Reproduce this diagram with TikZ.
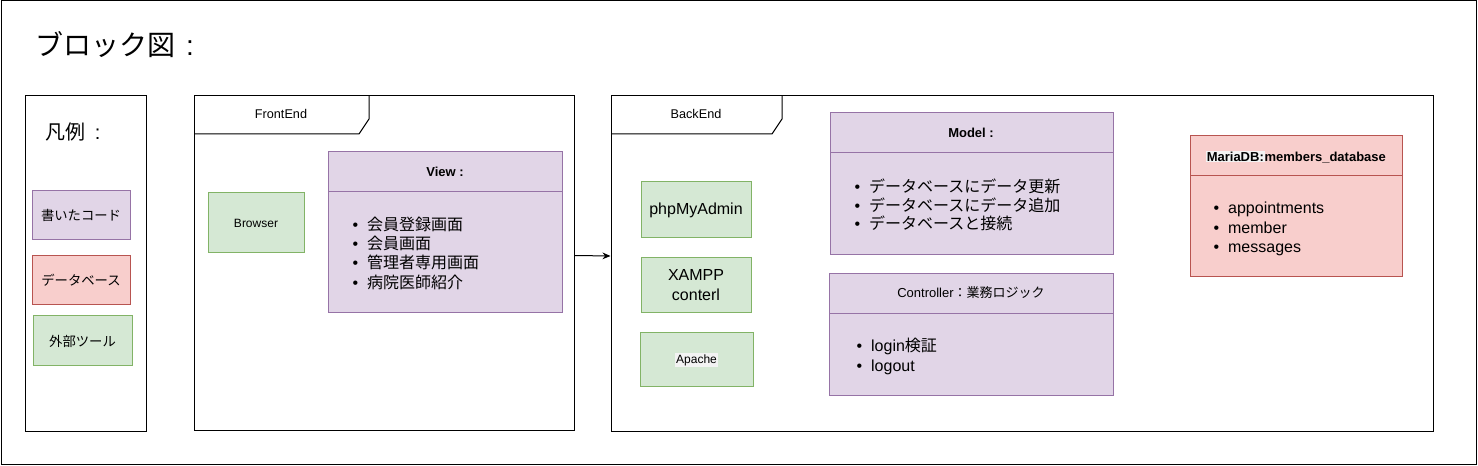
\documentclass[tikz,border=0pt]{standalone}
\usepackage{fontspec}
\setmainfont{Liberation Sans}
\newfontfamily\jp{Noto Sans CJK JP}
\usetikzlibrary{arrows.meta,fit}
\definecolor{pfill}{HTML}{E1D5E7}
\definecolor{pstroke}{HTML}{9673A6}
\definecolor{rfill}{HTML}{F8CECC}
\definecolor{rstroke}{HTML}{B85450}
\definecolor{gfill}{HTML}{D5E8D4}
\definecolor{gstroke}{HTML}{82B366}
\definecolor{hl}{HTML}{F3F3F3}
\newcommand\itm[1]{\makebox[11pt][l]{\textbullet}{#1}}
\tikzset{
  every path/.style={line width=0.75pt},
  frame/.style={draw=black, line width=0.75pt, inner sep=0pt},
  pbox/.style={draw=pstroke, fill=pfill, line width=0.75pt, inner sep=0pt},
  rbox/.style={draw=rstroke, fill=rfill, line width=0.75pt, inner sep=0pt},
  gbox/.style={draw=gstroke, fill=gfill, line width=0.75pt, inner sep=0pt},
  small/.style={font=\fontsize{9}{11}\selectfont},
  head/.style={font=\fontsize{9.75}{12}\selectfont\bfseries},
  tool/.style={font=\fontsize{12}{15}\selectfont, align=center},
  lst/.style={anchor=west, align=left, inner sep=0pt, font=\fontsize{12}{14.5}\selectfont},
}
\begin{document}
\begin{tikzpicture}[x=0.75pt,y=-0.75pt]
\useasboundingbox (0,0) rectangle (1478,466);
% outer border
\node[frame, fit={(1,1) (1476,464)}] (outer) {};
\node[anchor=west, inner sep=0pt, font=\fontsize{21}{24}\selectfont] (title) at (35,45) {{\jp ブロック図}\hspace{8pt}:};

% legend
\node[frame, fit={(25,96) (146,432)}] (legend) {};
\node[anchor=west, inner sep=0pt, font=\fontsize{15}{18}\selectfont] (legendt) at (45,132) {{\jp 凡例}\hspace{7pt}:};
\node[pbox, fit={(32,191) (130,240)}] (lcode) {};
\node[small, font=\jp] at (lcode.center) (lcodet) {書いたコード};
\node[rbox, fit={(32,256) (130,305)}] (ldb) {};
\node[small, font=\jp] at (ldb.center) (ldbt) {データベース};
\node[gbox, fit={(33,316) (132,366)}] (ltool) {};
\node[small, font=\jp] at (ltool.center) (ltoolt) {外部ツール};

% FrontEnd
\node[frame, fit={(194,96) (574,431)}] (front) {};
\draw (194,134) -- (359,134) -- (369,119) -- (369,96);
\node[font=\fontsize{9.5}{11}\selectfont] (frontt) at (281,114) {FrontEnd};
\node[gbox, fit={(208,193) (304,253)}] (browser) {};
\node[small] at (browser.center) (browsert) {Browser};
\node[pbox, fit={(328,152) (562,313)}] (view) {};
\draw[pstroke] (328,192) -- (562,192);
\node[head] (viewt) at (445,172) {View :};
\node[lst] (viewl) at (352,253) {\itm{\jp 会員登録画面}\\\itm{\jp 会員画面}\\\itm{\jp 管理者専用画面}\\\itm{\jp 病院医師紹介}};

% BackEnd
\node[frame, fit={(611,96) (1433,432)}] (back) {};
\draw (611,134) -- (772,134) -- (782,119) -- (782,96);
\node[font=\fontsize{9.5}{11}\selectfont] (backt) at (696,114) {BackEnd};

\draw[-{Stealth[length=6pt,width=5pt]}] ([yshift=6pt]front.east) -- ([yshift=6pt]back.west);

\node[gbox, fit={(641,182) (751,238)}] (php) {};
\node[tool] at (php.center) (phpt) {phpMyAdmin};
\node[gbox, fit={(641,258) (751,313)}] (xampp) {};
\node[tool] at (xampp.center) (xamppt) {XAMPP\\conterl};
\node[gbox, fit={(640,333) (753,387)}] (apache) {};
\node[small, fill=hl, inner sep=1pt] at (apache.center) (apachet) {Apache};

% Model
\node[pbox, fit={(830,113) (1113,255)}] (model) {};
\draw[pstroke] (830,153) -- (1113,153);
\node[head] (modelt) at (971,133) {Model :};
\node[lst, font=\fontsize{12}{14}\selectfont] (modell) at (854,205) {\itm{\jp データベースにデータ更新}\\\itm{\jp データベースにデータ追加}\\\itm{\jp データベースと接続}};

% Controller
\node[pbox, fit={(829,274) (1113,396)}] (ctrl) {};
\draw[pstroke] (829,314) -- (1113,314);
\node[font=\fontsize{9.75}{12}\selectfont] (ctrlt) at (971,293) {Controller{\jp ：業務ロジック}};
\node[lst, font=\fontsize{12}{15}\selectfont] (ctrll) at (856,356) {\itm{login{\jp 検証}}\\\itm{logout}};

% MariaDB
\node[rbox, fit={(1190,136) (1402,277)}] (db) {};
\draw[rstroke] (1190,176) -- (1402,176);
\node[head] (dbt) at (1296,157) {{\fboxsep=0.5pt\colorbox{hl}{MariaDB:}}members\_database};
\node[lst] (dbl) at (1213,229) {\itm{appointments}\\\itm{member}\\\itm{messages}};
\end{tikzpicture}
\end{document}
